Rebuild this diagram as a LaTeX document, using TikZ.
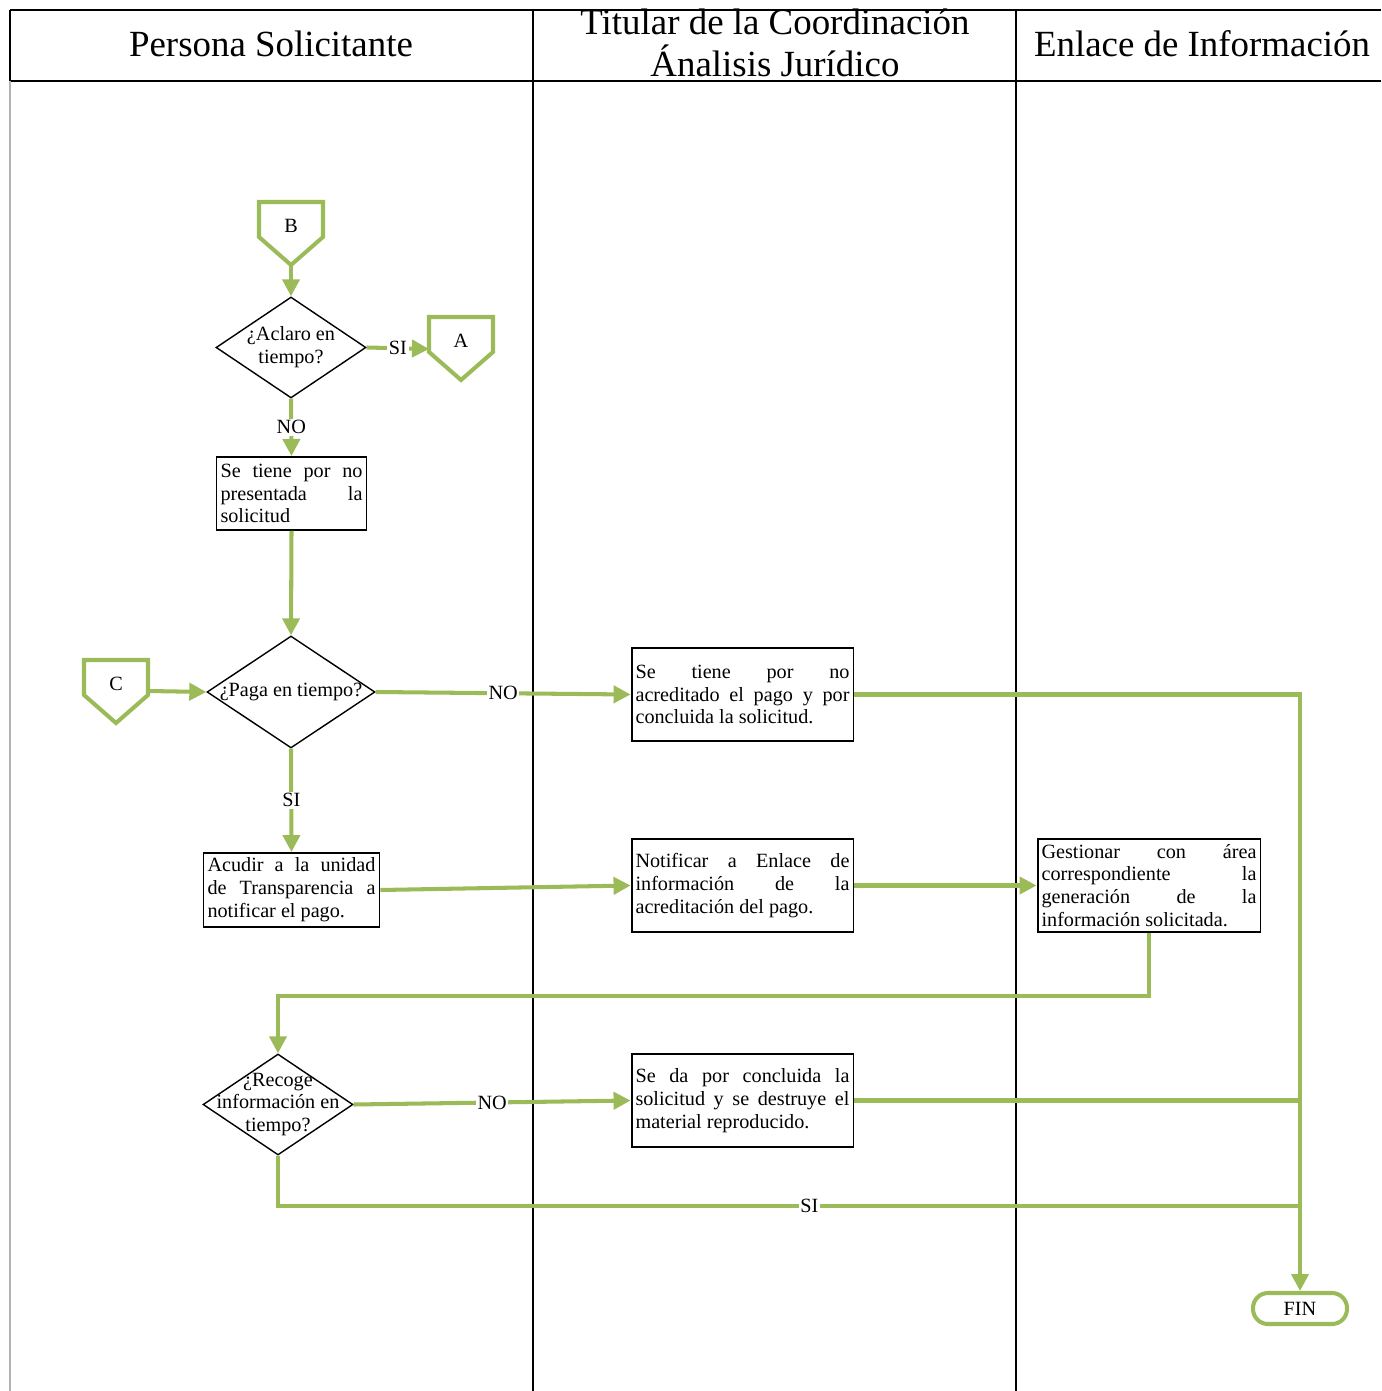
\documentclass[tikz,border=0pt]{standalone}
\usepackage{fontspec}
\setmainfont{Liberation Serif}
\usepackage{tikz}
\usetikzlibrary{arrows.meta,shapes.geometric,calc}
\definecolor{verde}{HTML}{9BBB59}

\newcommand{\conectorpag}[3]{%
  \node[conector] (#1) at (#2) {#3};
  \draw[linea] ($(#1.center)+(-32,-24)$) -- ($(#1.center)+(32,-24)$)
    -- ($(#1.center)+(32,11)$) -- ($(#1.center)+(0,39)$) coordinate (#1s)
    -- ($(#1.center)+(-32,11)$) -- cycle;
  \coordinate (#1w) at ($(#1.center)+(-32,8)$);
  \coordinate (#1e) at ($(#1.center)+(32,7)$);
}

\begin{document}
\begin{tikzpicture}[x=0.02cm,y=-0.02cm,
    marco/.style={draw=black,line width=0.9pt},
    titulo/.style={align=center,font=\fontsize{21}{24}\selectfont},
    caja/.style={draw=black,line width=1.1pt,align=justify,inner sep=0.08cm,
      font=\fontsize{11.5}{13}\selectfont},
    decision/.style={diamond,draw=black,line width=0.8pt,inner sep=0pt},
    pregunta/.style={align=center,inner sep=0pt,font=\fontsize{11.5}{13}\selectfont},
    flujo/.style={draw=verde,line width=2.3pt,-{Triangle[length=0.34cm,width=0.34cm]}},
    linea/.style={draw=verde,line width=2.3pt},
    etiqueta/.style={fill=white,inner sep=1pt,font=\fontsize{11.5}{13}\selectfont},
    conector/.style={inner sep=0pt,font=\fontsize{11.5}{13}\selectfont},
    fin/.style={draw=verde,line width=2.3pt,rounded corners=0.3cm,
      minimum width=1.88cm,minimum height=0.62cm,font=\fontsize{11.5}{13}\selectfont}]

  \useasboundingbox (0,0) rectangle (1381,1391);

  \draw[marco] (10,10) -- (1381,10);
  \draw[marco] (10,81) -- (1381,81);
  \draw[marco] (533,10) -- (533,1391);
  \draw[marco] (1016,10) -- (1016,1391);
  \draw[marco] (10,10) -- (10,81);
  \draw[gray!60,line width=0.6pt] (10,81) -- (10,1391);

  \node[titulo] (solicitante) at (271,44) {Persona Solicitante};
  \node[titulo] (titular) at (775,43) {Titular de la Coordinación\\Ánalisis Jurídico};
  \node[titulo] (enlace) at (1202,44) {Enlace de Información};

  \conectorpag{B}{291,226}{B}
  \conectorpag{A}{461,341}{A}
  \conectorpag{C}{116,684}{C}

  \node[decision,minimum width=3cm,minimum height=2.02cm,
    label={[pregunta]center:{¿Aclaro en\\tiempo?}}] (aclaro) at (291,347.5) {};
  \node[caja,text width=2.84cm,minimum height=1.46cm] (noPresentada) at (291.5,493.5)
    {Se tiene por no\linebreak presentada la\linebreak solicitud};
  \node[decision,minimum width=3.36cm,minimum height=2.24cm,
    label={[pregunta]center:{¿Paga en tiempo?}}] (paga) at (291,692) {};
  \node[caja,text width=4.28cm,minimum height=1.86cm] (noAcreditado) at (742.5,694.5)
    {Se tiene por no\linebreak acreditado el pago y por\linebreak concluida la solicitud.};
  \node[caja,text width=3.36cm,minimum height=1.48cm] (acudir) at (291.5,890)
    {Acudir a la unidad\linebreak de Transparencia a\linebreak notificar el pago.};
  \node[caja,text width=4.28cm,minimum height=1.86cm] (notificar) at (742.5,885.5)
    {Notificar a Enlace de\linebreak información de la\linebreak acreditación del pago.};
  \node[caja,text width=4.3cm,minimum height=1.86cm] (gestionar) at (1149,885.5)
    {Gestionar con área\linebreak correspondiente la\linebreak generación de la\linebreak información solicitada.};
  \node[decision,minimum width=3cm,minimum height=2.02cm,
    label={[pregunta]center:{¿Recoge\\información en\\tiempo?}}] (recoge) at (278,1104.5) {};
  \node[caja,text width=4.28cm,minimum height=1.86cm] (destruye) at (742.5,1100.5)
    {Se da por concluida la\linebreak solicitud y se destruye el\linebreak material reproducido.};
  \node[fin] (fin) at (1300,1308.5) {FIN};

  \coordinate (uneSi) at (1300,1206);

  \draw[flujo] (Bs) -- (aclaro.north);
  \draw[flujo] (aclaro.east) -- node[etiqueta] (si1) {SI} (Aw);
  \draw[flujo] (aclaro.south) -- node[etiqueta] (no1) {NO} (noPresentada.north);
  \draw[flujo] (noPresentada.south) -- (paga.north);
  \draw[flujo] (Ce) -- (paga.west);
  \draw[flujo] (paga.east) -- node[etiqueta] (no2) {NO} (noAcreditado.west);
  \draw[flujo] (paga.south) -- node[etiqueta] (si2) {SI} (acudir.north);
  \draw[flujo] (acudir.east) -- (notificar.west);
  \draw[flujo] (notificar.east) -- (gestionar.west);
  \draw[flujo] (gestionar.south) -- ++(0,63) -| (recoge.north);
  \draw[flujo] (recoge.east) -- node[etiqueta] (no3) {NO} (destruye.west);
  \draw[flujo] (noAcreditado.east) -| (fin.north);
  \draw[linea] (destruye.east) -- (destruye.east -| fin.north);
  \draw[linea] (recoge.south) |- node[etiqueta,pos=0.76] (si3) {SI} (uneSi);

\end{tikzpicture}
\end{document}
